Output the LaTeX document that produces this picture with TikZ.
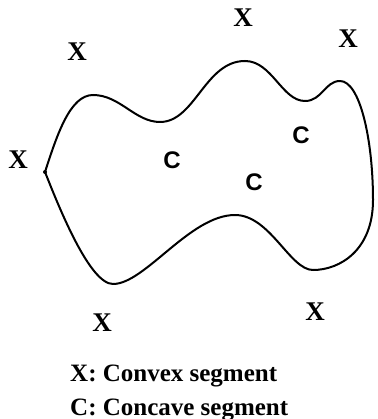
\documentclass[tikz,border=0pt]{standalone}
\usepackage{fontspec}
\setmainfont{Liberation Serif}
\newfontfamily\labelsans{Liberation Sans}
\begin{document}
\begin{tikzpicture}[x=1pt,y=-1pt,
  lbl/.style={font=\fontsize{27}{27}\selectfont\bfseries, inner sep=0pt},
  clbl/.style={font=\fontsize{24}{24}\selectfont\labelsans\bfseries, inner sep=0pt},
  legend/.style={font=\fontsize{25}{25}\selectfont\bfseries, inner sep=0pt, anchor=base west},
  outline/.style={line width=2pt, line join=round}]
\useasboundingbox (0,0) rectangle (377,419);
\coordinate (A) at (45,172);
\draw[outline] (A) .. controls (57,135) and (70,95) .. (93,95)
  .. controls (120,95) and (135,122) .. (160,122)
  .. controls (195,122) and (205,61) .. (245,61)
  .. controls (272,61) and (282,101) .. (305,101)
  .. controls (322,101) and (325,81) .. (340,81)
  .. controls (360,81) and (373,140) .. (373,200)
  .. controls (373,250) and (340,270) .. (313,270)
  .. controls (290,270) and (270,215) .. (235,215)
  .. controls (190,215) and (145,284) .. (113,284)
  .. controls (90,284) and (60,210) .. (A) -- cycle;
\fill (A) circle (2);
\node[lbl] (x1) at (77,52) {X};
\node[lbl] (x2) at (243,18) {X};
\node[lbl] (x3) at (348,39) {X};
\node[lbl] (x4) at (18,160) {X};
\node[lbl] (x5) at (102,323) {X};
\node[lbl] (x6) at (315,312) {X};
\node[clbl] (c1) at (172,160) {C};
\node[clbl] (c2) at (301,135) {C};
\node[clbl] (c3) at (254,182) {C};
\node[legend] (l1) at (70,381) {X: Convex segment};
\node[legend] (l2) at (70,415) {C: Concave segment};
\end{tikzpicture}
\end{document}
